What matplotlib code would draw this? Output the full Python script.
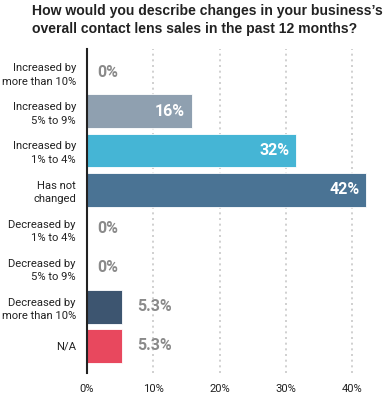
import matplotlib
matplotlib.use("Agg")
import matplotlib.pyplot as plt

categories = ["Increased by\nmore than 10%", "Increased by\n5% to 9%", "Increased by\n1% to 4%",
              "Has not\nchanged", "Decreased by\n1% to 4%", "Decreased by\n5% to 9%",
              "Decreased by\nmore than 10%", "N/A"]
values = [0, 15.8, 31.6, 42.1, 0, 0, 5.3, 5.3]
labels = ["0%", "16%", "32%", "42%", "0%", "0%", "5.3%", "5.3%"]
colors = ["#8fa0b0", "#8fa0b0", "#45b5d5", "#4a7394", "#8fa0b0", "#8fa0b0", "#3d5570", "#e8485e"]
xticks = [0, 10, 20, 30, 40]
xticklabels = ["0%", "10%", "20%", "30%", "40%"]
title = "How would you describe changes in your business\u2019s\noverall contact lens sales in the past 12 months?"

fig = plt.figure(figsize=(3.85, 3.94), dpi=100)
ax = fig.add_axes([87/385, 1-373/394, (382-87)/385, (373-49)/394])
y = list(range(len(categories)))
ax.barh(y, values, height=0.87, color=colors, edgecolor="white", linewidth=0.6, zorder=3)
ax.set_ylim(7.7, -0.6)
ax.set_xlim(0, 44.5)
for yi, v, lab in zip(y, values, labels):
    if v > 10:
        ax.text(v - 1.0, yi, lab, ha="right", va="center", color="white",
                fontsize=11.5, fontweight="bold", family="Roboto", zorder=4)
    elif v > 0:
        ax.text(v + 2.3, yi, lab, ha="left", va="center", color="#8a8a8a",
                fontsize=11.5, fontweight="bold", family="Roboto", zorder=4)
    else:
        ax.text(1.5, yi, lab, ha="left", va="center", color="#8a8a8a",
                fontsize=11.5, fontweight="bold", family="Roboto", zorder=4)

ax.set_yticks(y)
ax.set_yticklabels(categories, fontsize=8.1, color="#222222", family="Roboto",
                   ha="right", linespacing=1.4)
ax.set_xticks(xticks)
ax.set_xticklabels(xticklabels, fontsize=8.1, color="#222222", family="Roboto")
ax.tick_params(axis="x", length=0, pad=8)
ax.tick_params(axis="y", length=0, pad=8)
for s in ["top", "right", "bottom"]:
    ax.spines[s].set_visible(False)
ax.spines["left"].set_linewidth(1.5)
ax.spines["left"].set_color("#222222")
ax.spines["left"].set_zorder(5)
ax.xaxis.grid(True, linestyle=(0, (1.2, 2.2)), color="#c8c8c8", linewidth=1.2, zorder=0)
ax.set_axisbelow(True)

fig.text(32/385, 1-4/394, title, ha="left", va="top", fontsize=10.1, fontweight="bold",
         color="#222222", family="Liberation Sans", linespacing=1.35)

fig.savefig("out.png", dpi=100)
